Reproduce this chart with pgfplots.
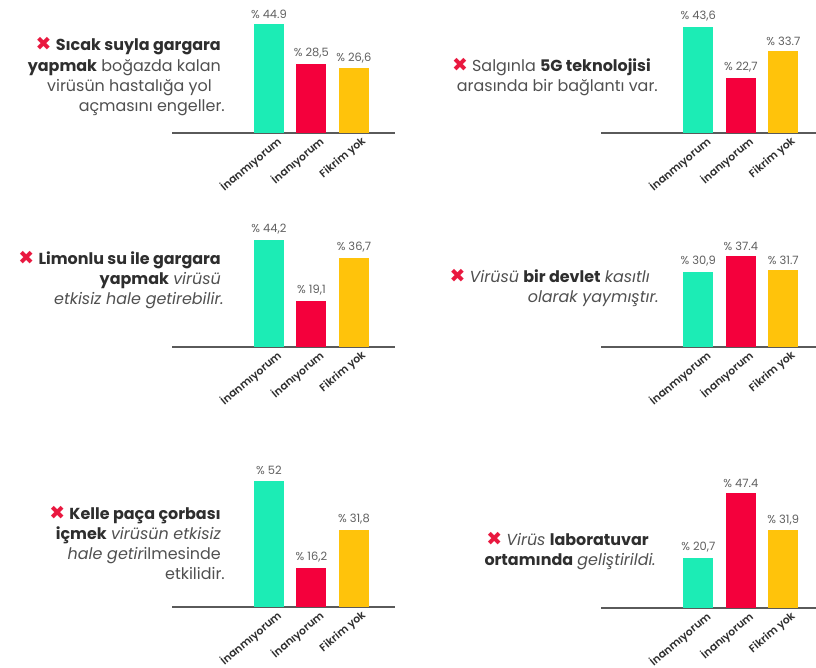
\documentclass[border=0pt]{standalone}
\usepackage{pgfplots}
\pgfplotsset{compat=1.18}
\usepackage{fontspec}
\setmainfont{Poppins}
\newfontfamily\semib{Poppins SemiBold}
\newfontfamily\xfont{DejaVu Sans}
\definecolor{cgreen}{HTML}{1CECB5}
\definecolor{cred}{HTML}{F4003C}
\definecolor{cyellow}{HTML}{FFC30B}
\definecolor{xred}{HTML}{E9183F}
\definecolor{axgray}{HTML}{5A5A5A}
\definecolor{tdark}{HTML}{2E2E2E}
\definecolor{tgray}{HTML}{505050}
\definecolor{lgray}{HTML}{606060}
\newcommand\X{{\xfont\bfseries\fontsize{19}{20}\selectfont\color{xred}✖}}
\newcommand\B[1]{{\bfseries\color{tdark}#1}}
\newcommand\I[1]{{\itshape #1}}
\newcommand\tfont{\fontsize{16}{20}\selectfont}
\pgfplotsset{
  panel/.style={
    scale only axis, height=130bp, ymin=0, ymax=53.5,
    axis x line*=bottom, hide y axis,
    x axis line style={draw=axgray, line width=1.6bp},
    xtick={0,1,2}, xticklabels={İnanmıyorum, İnanıyorum, Fikrim yok},
    major tick length=0pt,
    xticklabel style={rotate=40, anchor=north east, xshift=7bp, yshift=-3bp,
      font=\semib\fontsize{10.8}{12}\selectfont, text=tdark},
    clip=false, anchor=south west,
    nodes near coords, point meta=explicit symbolic,
    nodes near coords style={font=\fontsize{11.5}{12}\selectfont, text=lgray, anchor=south, yshift=2bp},
  },
  leftpanel/.style={panel, width=222.7bp, xmin=-2.28, xmax=2.96},
  rightpanel/.style={panel, width=214.6bp, xmin=-2.29, xmax=2.76},
  bA/.style={ybar, bar width=30bp, bar shift=0pt, fill=cgreen, draw=none},
  bB/.style={ybar, bar width=30bp, bar shift=0pt, fill=cred, draw=none},
  bC/.style={ybar, bar width=30bp, bar shift=0pt, fill=cyellow, draw=none},
}
\begin{document}
\begin{tikzpicture}[x=1bp,y=1bp]
\fill[white] (0,0) rectangle (816,668);
\path[use as bounding box] (0,0) rectangle (816,668);

% Panel 1
\begin{axis}[leftpanel, at={(172bp,535bp)}]
\addplot[bA] coordinates {(0,44.9) [\% 44.9]};
\addplot[bB] coordinates {(1,28.5) [\% 28,5]};
\addplot[bC] coordinates {(2,26.6) [\% 26,6]};
\end{axis}
% Panel 2
\begin{axis}[rightpanel, at={(601bp,535bp)}]
\addplot[bA] coordinates {(0,43.6) [\% 43,6]};
\addplot[bB] coordinates {(1,22.7) [\% 22,7]};
\addplot[bC] coordinates {(2,33.7) [\% 33.7]};
\end{axis}
% Panel 3
\begin{axis}[leftpanel, at={(172bp,321bp)}]
\addplot[bA] coordinates {(0,44.2) [\% 44,2]};
\addplot[bB] coordinates {(1,19.1) [\% 19,1]};
\addplot[bC] coordinates {(2,36.7) [\% 36,7]};
\end{axis}
% Panel 4
\begin{axis}[rightpanel, at={(601bp,321bp)}]
\addplot[bA] coordinates {(0,30.9) [\% 30,9]};
\addplot[bB] coordinates {(1,37.4) [\% 37.4]};
\addplot[bC] coordinates {(2,31.7) [\% 31.7]};
\end{axis}
% Panel 5
\begin{axis}[leftpanel, at={(172bp,61bp)}]
\addplot[bA] coordinates {(0,52) [\% 52]};
\addplot[bB] coordinates {(1,16.2) [\% 16,2]};
\addplot[bC] coordinates {(2,31.8) [\% 31,8]};
\end{axis}
% Panel 6
\begin{axis}[rightpanel, at={(601bp,60bp)}]
\addplot[bA] coordinates {(0,20.7) [\% 20,7]};
\addplot[bB] coordinates {(1,47.4) [\% 47.4]};
\addplot[bC] coordinates {(2,31.9) [\% 31,9]};
\end{axis}

\begin{scope}[every node/.style={anchor=base east, inner sep=0pt, font=\tfont, text=tgray}]
% Panel 1 text
\node at (221,{668-51}) {\X~\B{Sıcak suyla gargara}};
\node at (221,{668-72}) {\B{yapmak} boğazda kalan};
\node at (212,{668-92}) {virüsün hastalığa yol};
\node at (225,{668-112}) {açmasını engeller.};
% Panel 2 text
\node at (651,{668-72}) {\X~Salgınla \B{5G teknolojisi}};
\node at (658,{668-92}) {arasında bir bağlantı var.};
% Panel 3 text
\node at (221,{668-265}) {\X~\B{Limonlu su ile gargara}};
\node at (221,{668-285}) {\B{yapmak} \I{virüsü}};
\node at (224,{668-305}) {\I{etkisiz hale getirebilir.}};
% Panel 4 text
\node at (650,{668-283}) {\X~\I{Virüsü} \B{bir devlet} \I{kasıtlı}};
\node at (659,{668-303}) {\I{olarak yaymıştır.}};
% Panel 5 text
\node at (221,{668-520}) {\X~\B{Kelle paça çorbası}};
\node at (221,{668-540}) {\B{içmek} \I{virüsün etkisiz}};
\node at (221,{668-560}) {\I{hale getir}ilmesinde};
\node at (225,{668-580}) {etkilidir.};
% Panel 6 text
\node at (649,{668-546}) {\X~\I{Virüs} \B{laboratuvar}};
\node at (656,{668-566}) {\B{ortamında} \I{geliştirildi.}};
\end{scope}
\end{tikzpicture}
\end{document}
